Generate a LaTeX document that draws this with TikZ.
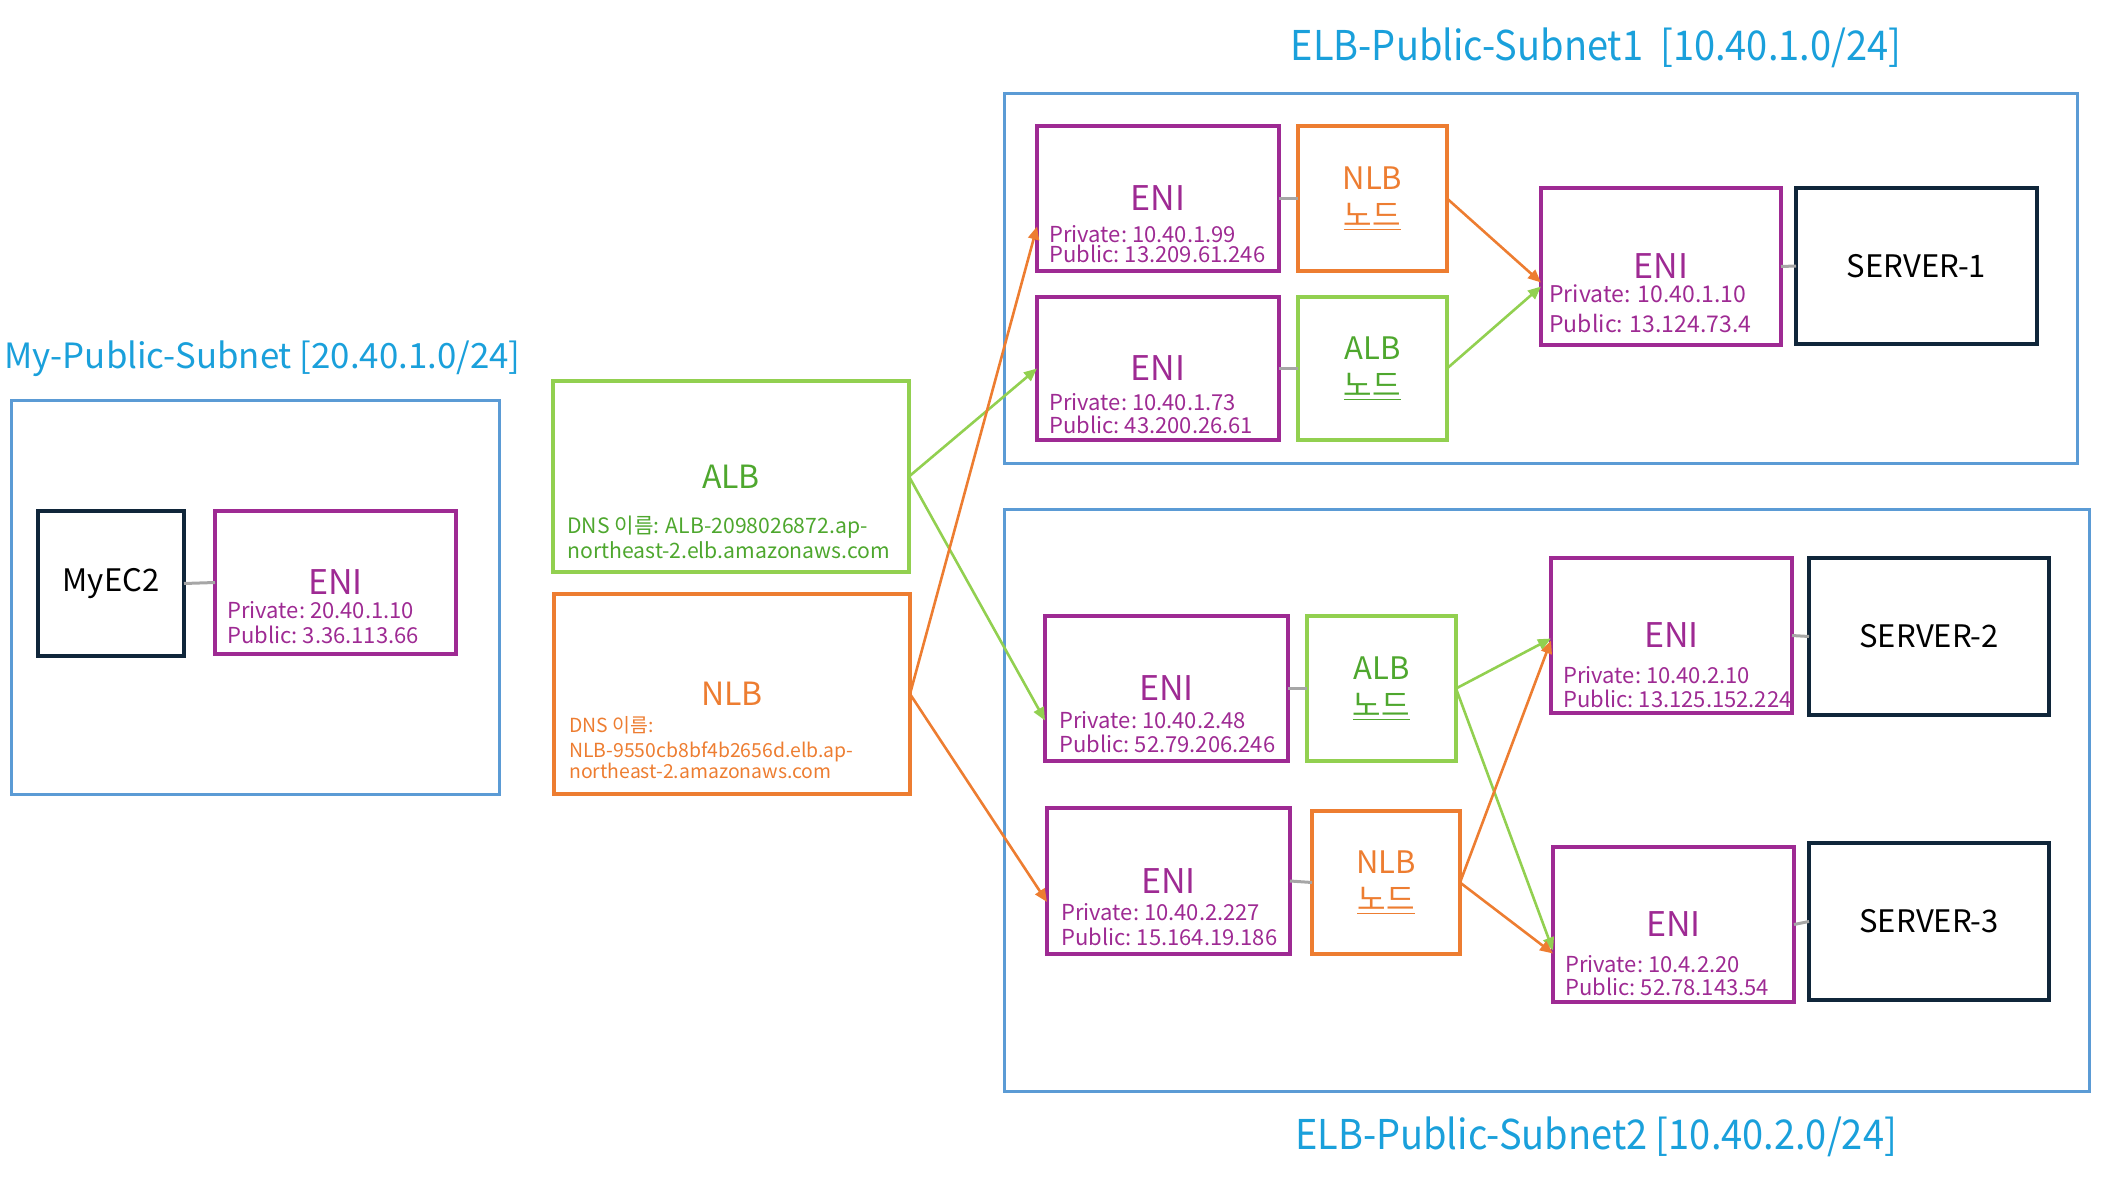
\documentclass[tikz,border=0pt]{standalone}
\usepackage{fontspec}
\setmainfont{Noto Sans CJK KR}
\usetikzlibrary{arrows.meta,calc}
\definecolor{subblue}{HTML}{5B9BD5}
\definecolor{titleblue}{HTML}{1AA0DB}
\definecolor{enipurple}{HTML}{9E2A93}
\definecolor{lgreen}{HTML}{92D050}
\definecolor{dgreen}{HTML}{4EA72E}
\definecolor{orng}{HTML}{ED7D31}
\definecolor{navy}{HTML}{10263A}
\definecolor{conngray}{HTML}{A6A6A6}
\begin{document}
\begin{tikzpicture}[x=0.5pt,y=-0.5pt,
  sz/.style 2 args={minimum width=#1*0.5pt, minimum height=#2*0.5pt},
  boxbase/.style={draw, rectangle, inner sep=0pt, outer sep=0pt},
  subnet/.style={boxbase, draw=subblue, line width=1.5pt},
  title/.style={inner sep=0pt, text=titleblue},
  eni/.style={boxbase, draw=enipurple, line width=1.6pt, text=enipurple, font=\fontsize{17}{20}\selectfont},
  ip/.style={anchor=base west, inner sep=0pt, text=enipurple, font=\fontsize{11}{13}\selectfont},
  host/.style={boxbase, draw=navy, line width=2pt, text=black, font=\fontsize{15.5}{18}\selectfont},
  albbox/.style={boxbase, draw=lgreen, line width=1.6pt, text=dgreen, font=\fontsize{16}{19}\selectfont},
  nlbbox/.style={boxbase, draw=orng, line width=1.6pt, text=orng, font=\fontsize{16}{19}\selectfont},
  lbnode/.style={align=center, font=\fontsize{15.5}{18.5}\selectfont},
  dns/.style={anchor=base west, inner sep=0pt},
  gline/.style={draw=conngray, line width=1.5pt},
  garrow/.style={draw=lgreen, line width=1.3pt, -{Triangle[length=6.5pt,width=5.5pt]}},
  oarrow/.style={draw=orng, line width=1.3pt, -{Triangle[length=6.5pt,width=5.5pt]}}
]
\useasboundingbox (0,0) rectangle (2104,1182);

% titles
\node[title, anchor=base west, font=\fontsize{17.4}{20}\selectfont] (t0) at (4,368) {My-Public-Subnet [20.40.1.0/24]};
\node[title, anchor=base, font=\fontsize{19}{22}\selectfont] (t1) at (1596,61) {\scalebox{1}[1.08]{ELB-Public-Subnet1\ \ [10.40.1.0/24]}};
\node[title, anchor=base, font=\fontsize{19}{22}\selectfont] (t2) at (1596,1149) {\scalebox{1}[1.08]{ELB-Public-Subnet2 [10.40.2.0/24]}};

% subnets
\node[subnet, sz={488}{394}] (sub0) at (255,597) {};
\node[subnet, sz={1073}{369}] (sub1) at (1540.5,278.5) {};
\node[subnet, sz={1085}{582}] (sub2) at (1546.5,800) {};

% left subnet
\node[host, sz={146}{145}] (myec2) at (111,583.5) {MyEC2};
\node[eni, sz={241}{143}] (eni0) at (335.5,582.5) {ENI};
\node[ip] (eni0a) at (227,618) {Private:\ 20.40.1.10};
\node[ip] (eni0b) at (227,643) {Public:\ 3.36.113.66};

% load balancers
\node[albbox, sz={356}{191}] (alb) at (731,476.5) {ALB};
\node[dns, text=dgreen, font=\fontsize{10.6}{13}\selectfont] (albd1) at (567,533) {DNS 이름: ALB-2098026872.ap-};
\node[dns, text=dgreen, font=\fontsize{10.6}{13}\selectfont] (albd2) at (567,558) {northeast-2.elb.amazonaws.com};
\node[nlbbox, sz={356}{200}] (nlb) at (732,694) {NLB};
\node[dns, text=orng, font=\fontsize{9.7}{12}\selectfont] (nlbd1) at (569,732) {DNS 이름:};
\node[dns, text=orng, font=\fontsize{9.7}{12}\selectfont] (nlbd2) at (569,757) {NLB-9550cb8bf4b2656d.elb.ap-};
\node[dns, text=orng, font=\fontsize{9.7}{12}\selectfont] (nlbd3) at (569,778) {northeast-2.amazonaws.com};

% subnet 1
\node[eni, sz={242}{145}] (eni1) at (1158,198.5) {ENI};
\node[ip] (eni1a) at (1049,243) {Private:\ 10.40.1.99};
\node[ip] (eni1b) at (1049,263) {Public:\ 13.209.61.246};
\node[nlbbox, lbnode, sz={149}{145}] (nn1) at (1372.5,198.5) {NLB\\\underline{노드}};
\node[eni, sz={242}{143}] (eni2) at (1158,368.5) {ENI};
\node[ip] (eni2a) at (1049,410) {Private:\ 10.40.1.73};
\node[ip] (eni2b) at (1049,433) {Public:\ 43.200.26.61};
\node[albbox, lbnode, sz={149}{143}] (an1) at (1372.5,368.5) {ALB\\\underline{노드}};
\node[eni, sz={240}{157}] (eni3) at (1661,266.5) {ENI};
\node[ip, font=\fontsize{11.5}{14}\selectfont] (eni3a) at (1549,303) {Private: 10.40.1.10};
\node[ip, font=\fontsize{11.5}{14}\selectfont] (eni3b) at (1549,332) {Public: 13.124.73.4};
\node[host, sz={241}{156}] (srv1) at (1916.5,266) {SERVER-1};

% subnet 2
\node[eni, sz={243}{145}] (eni4) at (1166.5,688.5) {ENI};
\node[ip] (eni4a) at (1059,728) {Private:\ 10.40.2.48};
\node[ip] (eni4b) at (1059,752) {Public:\ 52.79.206.246};
\node[albbox, lbnode, sz={149}{145}] (an2) at (1381.5,688.5) {ALB\\\underline{노드}};
\node[eni, sz={243}{146}] (eni5) at (1168.5,881) {ENI};
\node[ip] (eni5a) at (1061,920) {Private:\ 10.40.2.227};
\node[ip] (eni5b) at (1061,945) {Public:\ 15.164.19.186};
\node[nlbbox, lbnode, sz={148}{143}] (nn2) at (1386,882.5) {NLB\\\underline{노드}};
\node[eni, sz={241}{155}] (eni6) at (1671.5,635.5) {ENI};
\node[ip] (eni6a) at (1563,683) {Private:\ 10.40.2.10};
\node[ip] (eni6b) at (1563,707) {Public:\ 13.125.152.224};
\node[host, sz={240}{157}] (srv2) at (1929,636.5) {SERVER-2};
\node[eni, sz={241}{155}] (eni7) at (1673.5,924.5) {ENI};
\node[ip] (eni7a) at (1565,972) {Private:\ 10.4.2.20};
\node[ip] (eni7b) at (1565,995) {Public:\ 52.78.143.54};
\node[host, sz={240}{157}] (srv3) at (1929,921.5) {SERVER-3};

% gray attachments
\draw[gline] (myec2.east) -- (eni0.west);
\draw[gline] (eni1.east) -- (nn1.west);
\draw[gline] (eni2.east) -- (an1.west);
\draw[gline] (eni3.east) -- (srv1.west);
\draw[gline] (eni4.east) -- (an2.west);
\draw[gline] (eni5.east) -- (nn2.west);
\draw[gline] (eni6.east) -- (srv2.west);
\draw[gline] (eni7.east) -- (srv3.west);

% traffic arrows
\draw[garrow] (alb.east) -- (eni2.west);
\draw[garrow] (alb.east) -- ($(eni4.west)+(0,32)$);
\draw[oarrow] (nlb.east) -- ($(eni1.west)+(0,28)$);
\draw[oarrow] (nlb.east) -- ($(eni5.west)+(0,21)$);
\draw[oarrow] (nn1.east) -- ($(eni3.west)+(0,16)$);
\draw[garrow] (an1.east) -- ($(eni3.west)+(0,20)$);
\draw[garrow] (an2.east) -- ($(eni6.west)+(0,3)$);
\draw[garrow] (an2.east) -- ($(eni7.west)+(0,26)$);
\draw[oarrow] (nn2.east) -- ($(eni6.west)+(0,5)$);
\draw[oarrow] (nn2.east) -- ($(eni7.west)+(0,29)$);
\end{tikzpicture}
\end{document}
